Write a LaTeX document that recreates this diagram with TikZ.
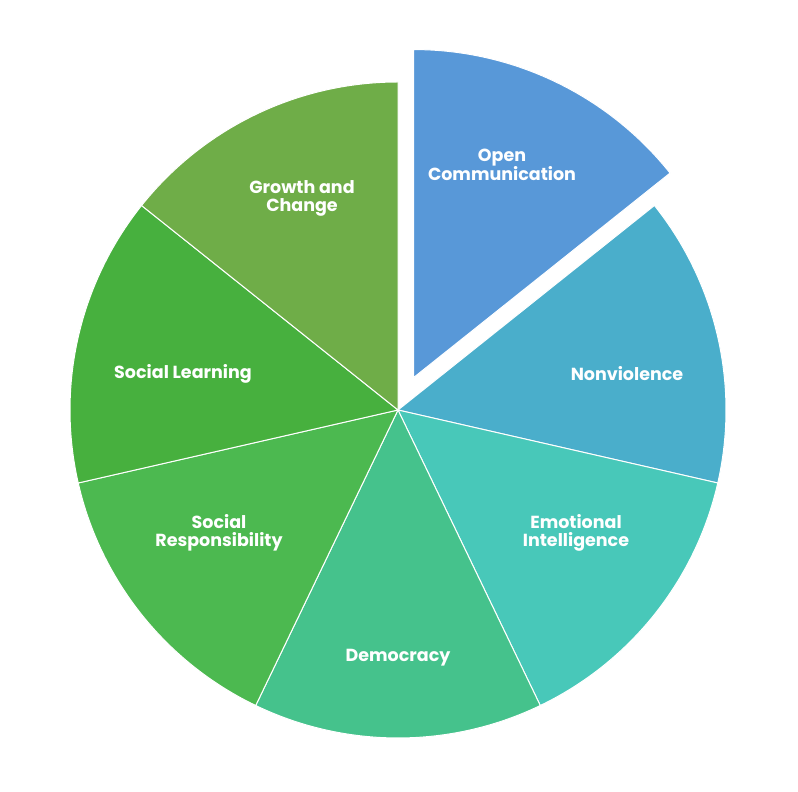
\documentclass[tikz,border=0pt]{standalone}
\usepackage{fontspec}
\setmainfont{Poppins}
\usetikzlibrary{calc}
\begin{document}
\begin{tikzpicture}[x=1pt,y=1pt,
  lbl/.style={text=white,font=\fontsize{17.5}{18}\selectfont\bfseries,align=center,inner sep=0pt},
  slice/.style={draw=white,line width=1pt}]
\useasboundingbox (0,0) rectangle (798,792);
\def\R{328}
\coordinate (c) at (398,382);
\coordinate (ce) at ($(c)+(64.29:36)$);
\foreach \a/\b/\col in {38.57/-12.86/4AAECB, -12.86/-64.29/48C8B9, -64.29/-115.71/45C28C, -115.71/-167.14/4CB950, -167.14/-218.57/47B03E, 141.43/90/6FAD48}{
  \definecolor{tmp}{HTML}{\col}
  \fill[tmp,slice] (c) -- ++(\a:\R) arc[start angle=\a,end angle=\b,radius=\R] -- cycle;
}
\definecolor{oc}{HTML}{5898D8}
\fill[oc,slice] (ce) -- ++(90:\R) arc[start angle=90,end angle=38.57,radius=\R] -- cycle;
\node[lbl] (n1) at (502,627) {Open\\Communication};
\node[lbl] (n2) at (627,418) {Nonviolence};
\node[lbl] (n3) at (576,259) {Emotional\\Intelligence};
\node[lbl] (n4) at (398,134) {Democracy};
\node[lbl] (n5) at (219,259) {Social\\Responsibility};
\node[lbl] (n6) at (183,418) {Social Learning};
\node[lbl] (n7) at (302,594) {Growth and\\Change};
\end{tikzpicture}
\end{document}
